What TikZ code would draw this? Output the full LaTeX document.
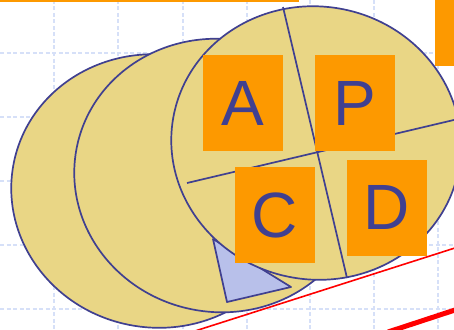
\documentclass[tikz,border=0pt]{standalone}
\usepackage{fontspec}
\setmainfont{Liberation Sans}
\definecolor{gridblue}{RGB}{214,224,248}
\definecolor{orng}{RGB}{253,153,0}
\definecolor{khaki}{RGB}{233,214,133}
\definecolor{inkblue}{RGB}{64,64,144}
\definecolor{lav}{RGB}{184,192,234}
\tikzset{
  gridline/.style={gridblue,line width=1.4pt,dash pattern=on 4pt off 2.5pt},
  ell/.style={fill=khaki,draw=inkblue,line width=1.7pt},
  divline/.style={draw=inkblue,line width=1.7pt},
  letterbox/.style={fill=orng,minimum width=80pt,minimum height=96pt,inner sep=0pt,
     text=inkblue,font=\fontsize{64}{64}\selectfont},
  redthin/.style={draw=red,line width=1.6pt},
  redthick/.style={draw=red,line width=5pt}
}
\begin{document}
\begin{tikzpicture}[x=1pt,y=-1pt]
\useasboundingbox (0,0) rectangle (454,329);
\clip (0,0) rectangle (454,329);
% grid
\foreach \gx in {54,118,183,247,310,374,438} {\draw[gridline] (\gx,0) -- (\gx,329);}
\foreach \gy in {53,117,181,245,309} {\draw[gridline] (0,\gy) -- (454,\gy);}
% orange bars
\fill[orng] (0,0) rectangle (299,2.5);
\fill[orng] (435,0) rectangle (454,66);
% ellipses
\coordinate (c1) at (156,191);
\coordinate (c2) at (219,175.5);
\coordinate (c3) at (316,143);
\draw[ell, rotate around={-10:(c1)}] (c1) ellipse [x radius=145, y radius=136.5];
\draw[ell, rotate around={-10:(c2)}] (c2) ellipse [x radius=145, y radius=136.5];
% triangle
\coordinate (t1) at (213,239);
\coordinate (t2) at (227,302);
\coordinate (t3) at (291,287);
\draw[fill=lav,draw=inkblue,line width=1.7pt,line join=round] (t1) -- (t2) -- (t3) -- cycle;
\draw[ell, rotate around={-10:(c3)}] (c3) ellipse [x radius=145, y radius=136.5];
% dividing lines
\coordinate (vtop) at (283,7);
\coordinate (vbot) at (347,278);
\coordinate (hl) at (187,183);
\coordinate (hr) at (458,119);
\draw[divline] (vtop) -- (vbot);
\draw[divline] (hl) -- (hr);
% boxes
\node[letterbox] (A) at (243,103) {A};
\node[letterbox] (P) at (355,103) {P};
\node[letterbox] (C) at (275,215) {C};
\node[letterbox] (D) at (387,207.5) {D};
% red lines
\coordinate (r1) at (195,331);
\coordinate (r2) at (458,247);
\coordinate (r3) at (388,332);
\coordinate (r4) at (458,309);
\draw[redthin] (r1) -- (r2);
\draw[redthick] (r3) -- (r4);
\end{tikzpicture}
\end{document}
